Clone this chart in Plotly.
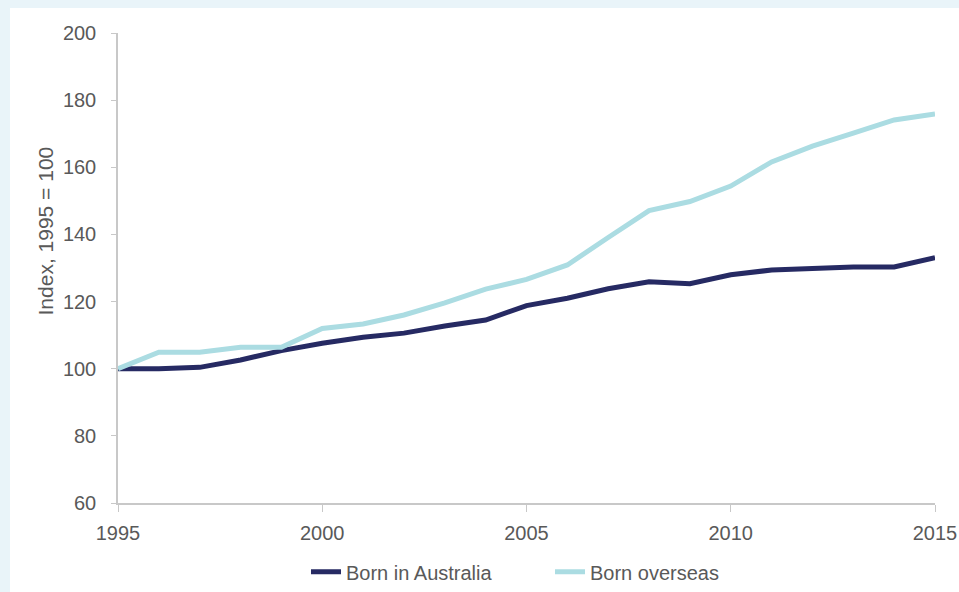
import plotly.graph_objects as go

years = list(range(1995, 2016))
born_australia = [100, 100, 100.4, 102.6, 105.4, 107.6, 109.4, 110.6, 112.7, 114.5,
                  118.8, 121.0, 123.8, 125.9, 125.3, 128.0, 129.4, 129.8, 130.3, 130.3, 133.1]
born_overseas = [100, 104.9, 104.9, 106.4, 106.4, 112.0, 113.3, 116.0, 119.6, 123.7,
                 126.6, 130.9, 139.1, 147.1, 149.8, 154.4, 161.6, 166.3, 170.2, 174.1, 175.9]

DARK = "#262a63"
LIGHT = "#abdce2"
BAND = "#e9f4f9"
TEXT = "#595959"
AXIS = "#c8c8c8"

fig = go.Figure()
fig.add_trace(go.Scatter(x=years, y=born_australia, name="Born in Australia",
                         mode="lines", line=dict(color=DARK, width=5)))
fig.add_trace(go.Scatter(x=years, y=born_overseas, name="Born overseas",
                         mode="lines", line=dict(color=LIGHT, width=5)))

# light blue frame at top and left of the white panel
fig.add_shape(type="rect", xref="paper", yref="paper", x0=-0.2, x1=1.1,
              y0=1.0532, y1=1.2, fillcolor=BAND, line=dict(width=0), layer="below")
fig.add_shape(type="rect", xref="paper", yref="paper", x0=-0.2, x1=-0.1322,
              y0=-0.3, y1=1.2, fillcolor=BAND, line=dict(width=0), layer="below")

# y axis title sits a bit above the middle of the axis
fig.add_annotation(text="Index, 1995 = 100", xref="paper", yref="paper",
                   x=-0.1053, y=0.5787, textangle=-90, showarrow=False,
                   font=dict(size=21, color=TEXT))

fig.update_layout(
    width=959, height=592,
    margin=dict(l=118, r=24, t=33, b=89, autoexpand=False),
    paper_bgcolor="white", plot_bgcolor="white",
    font=dict(family="Liberation Sans, Arial, sans-serif", size=20, color=TEXT),
    showlegend=True,
    legend=dict(orientation="h", xref="paper", x=0.2301, xanchor="left",
                yref="container", y=0.034, yanchor="middle",
                entrywidth=199, font=dict(size=20, color=TEXT), traceorder="normal"),
)
fig.update_xaxes(range=[1995, 2015], tickvals=[1995, 2000, 2005, 2010, 2015],
                 showgrid=False, zeroline=False, showline=True, linecolor=AXIS,
                 linewidth=1.5, ticks="outside", ticklen=7, tickcolor=AXIS,
                 ticklabelstandoff=4, automargin=False)
fig.update_yaxes(range=[60, 200], dtick=20, showgrid=False, zeroline=False,
                 showline=True, linecolor=AXIS, linewidth=1.5, ticks="outside",
                 ticklen=5, tickcolor=AXIS, ticklabelstandoff=11, automargin=False)

fig.write_html("out.html", config={"displayModeBar": False},
               post_script="document.body.style.margin='0';")
